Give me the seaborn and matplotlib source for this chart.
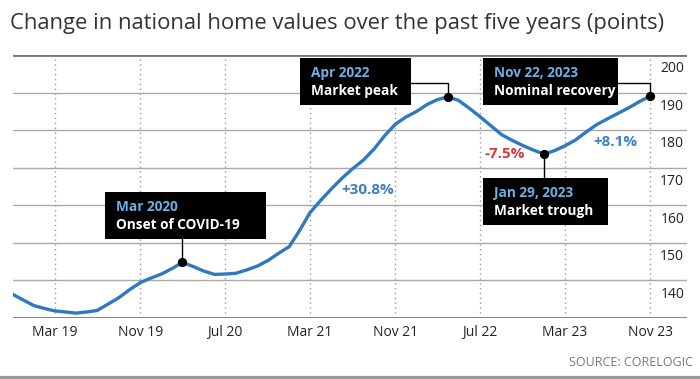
import matplotlib
matplotlib.use("Agg")
import matplotlib.pyplot as plt
import matplotlib.dates as mdates
from matplotlib.patches import Rectangle
from matplotlib.lines import Line2D
from matplotlib.transforms import Affine2D
import pandas as pd
import seaborn as sns

# monthly index values, Nov 2018 .. Nov 2023
months = pd.date_range("2018-11-01", "2023-11-01", freq="MS")
values = [
    136.3, 134.8, 133.3, 132.5, 131.9, 131.6, 131.3, 131.6, 132.0, 133.7,
    135.4, 137.5, 139.4, 140.6, 141.7, 143.2, 144.8, 143.7, 142.5, 141.6,
    141.7, 141.9, 142.8, 143.8, 145.3, 147.2, 149.0, 153.5, 158.0, 161.3,
    164.3, 167.2, 169.7, 172.0, 175.0, 178.5, 181.6, 183.5, 185.0, 186.9,
    188.1, 188.9, 187.9, 185.8, 183.6, 181.2, 178.8, 177.3, 175.9, 174.7,
    173.6, 174.6, 175.8, 177.4, 179.5, 181.5, 183.0, 184.5, 186.0, 187.6,
    189.1,
]
x_ticks = pd.to_datetime(["2019-03-01", "2019-11-01", "2020-07-01", "2021-03-01",
                          "2021-11-01", "2022-07-01", "2023-03-01", "2023-11-01"])
y_ticks = [140, 150, 160, 170, 180, 190, 200]

# key points: date, value, box title, box text
events = [
    ("2020-03-01", 144.8, "Mar 2020", "Onset of COVID-19"),
    ("2022-04-01", 188.9, "Apr 2022", "Market peak"),
    ("2023-11-01", 189.1, "Nov 22, 2023", "Nominal recovery"),
    ("2023-01-01", 173.6, "Jan 29, 2023", "Market trough"),
]
# percent changes: label, date, value, colour
changes = [
    ("+30.8%", "2021-08-15", 164.0, "#3d80c3"),
    ("-7.5%", "2022-09-10", 173.6, "#d63a3f"),
    ("+8.1%", "2023-07-25", 176.8, "#3d80c3"),
]

df = pd.DataFrame({"month": months, "value": values})

sns.set_theme(style="white")
plt.rcParams["font.family"] = ["Open Sans", "DejaVu Sans"]

W, H = 700, 379
fig = plt.figure(figsize=(W / 100, H / 100), dpi=100)
ax = fig.add_axes([12.7 / W, 1 - 318 / H, (687 - 12.7) / W, (318 - 55) / H])
pix = Affine2D().scale(1, -1).translate(0, H)  # top-left pixel coords

sns.lineplot(data=df, x="month", y="value", ax=ax, color="#2f79c2", linewidth=2.4, zorder=3)

ax.set_xlim(mdates.date2num(pd.Timestamp("2018-11-01")), mdates.date2num(pd.Timestamp("2024-02-14")))
ax.set_ylim(130, 200)
for s in ax.spines.values():
    s.set_visible(False)

ax.set_xticks(x_ticks)
ax.xaxis.set_major_formatter(mdates.DateFormatter("%b %y"))
ax.set_yticks(y_ticks)
ax.tick_params(axis="x", length=0, pad=5, labelsize=10, labelcolor="#222")
ax.tick_params(axis="y", length=0, labelleft=False)
ax.set_xlabel("")
ax.set_ylabel("")
ax.grid(axis="x", linestyle=(0, (1, 2.5)), color="#999", linewidth=1)
ax.grid(axis="y", color="#aaa", linewidth=1)
ax.axhline(200, color="#777", linewidth=2, zorder=2)
ax.axhline(130, color="#777", linewidth=2, zorder=2)

for v in y_ticks:
    ax.annotate(str(v), xy=(1, v), xycoords=("axes fraction", "data"),
                xytext=(-2, -4.5), textcoords="offset points",
                ha="right", va="top", fontsize=10, color="#222")

# annotation boxes in pixel layout: left, top, width, height, connector kind
boxes = [(105, 192, 161, 47, "up"), (300, 58, 111, 47, "elbow"),
         (483, 58, 135, 47, "elbow"), (483, 178, 125, 47, "down")]
for (d, v, head, body), (bx, by, bw, bh, kind) in zip(events, boxes):
    disp = ax.transData.transform((mdates.date2num(pd.Timestamp(d)), v))
    px, py = disp[0], H - disp[1]
    if kind == "elbow":
        pts = [(bx + bw, by + 25), (px, by + 25), (px, py)]
    elif kind == "up":
        pts = [(px, by + bh), (px, py)]
    else:
        pts = [(px, py), (px, by)]
    xs, ys = zip(*pts)
    fig.add_artist(Line2D(xs, ys, color="black", linewidth=1, transform=pix, zorder=4))
    fig.add_artist(Rectangle((bx, by), bw, bh, facecolor="black", edgecolor="none",
                             transform=pix, zorder=5))
    fig.text(bx + 11, by + 15, head, transform=pix, color="#6cb0e6", fontsize=9.8,
             fontweight="bold", va="center", ha="left", zorder=6)
    fig.text(bx + 11, by + 33, body, transform=pix, color="white", fontsize=9.8,
             fontweight="bold", va="center", ha="left", zorder=6)
    ax.scatter([pd.Timestamp(d)], [v], s=32, color="black", zorder=6)

for label, d, v, c in changes:
    ax.text(pd.Timestamp(d), v, label, color=c, fontsize=11, fontweight="bold",
            ha="center", va="center", zorder=5)

fig.text(10 / W, 1 - 24 / H, "Change in national home values over the past five years (points)",
         fontsize=15.8, color="#333", ha="left", va="center")
fig.text(693 / W, 1 - 363 / H, "SOURCE: CORELOGIC", fontsize=9, color="#777",
         ha="right", va="center")
fig.add_artist(Line2D([0, W], [377.5, 377.5], color="#999", linewidth=3, transform=pix))

fig.savefig("out.png", dpi=100)
